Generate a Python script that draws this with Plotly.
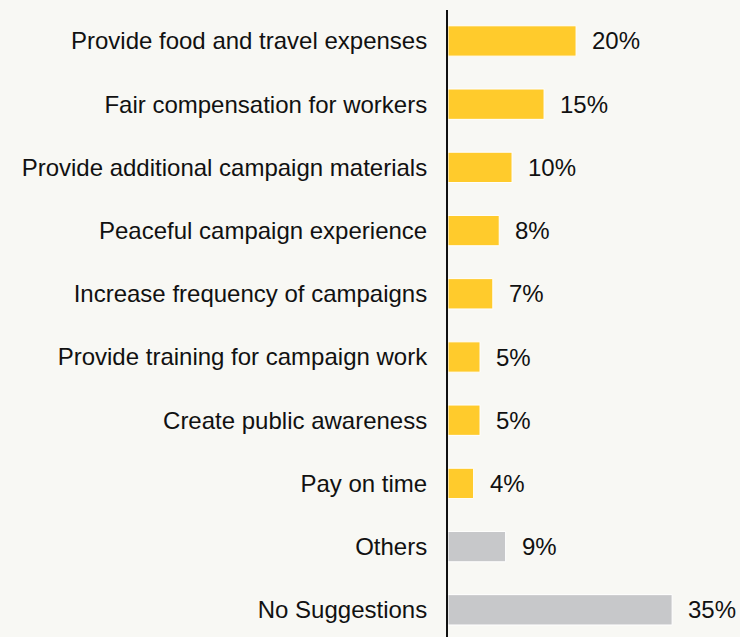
import plotly.graph_objects as go

categories = [
    "Provide food and travel expenses",
    "Fair compensation for workers",
    "Provide additional campaign materials",
    "Peaceful campaign experience",
    "Increase frequency of campaigns",
    "Provide training for campaign work",
    "Create public awareness",
    "Pay on time",
    "Others",
    "No Suggestions",
]
values = [20, 15, 10, 8, 7, 5, 5, 4, 9, 35]
value_labels = ["20%", "15%", "10%", "8%", "7%", "5%", "5%", "4%", "9%", "35%"]

YELLOW = "#FFCB2C"
GREY = "#C7C8CA"
colors = [GREY if c in ("Others", "No Suggestions") else YELLOW for c in categories]

FONT = "Liberation Sans, Arial, sans-serif"

fig = go.Figure(
    go.Bar(
        x=values,
        y=categories,
        orientation="h",
        marker=dict(color=colors, line=dict(color="white", width=1)),
        width=0.48,
        hoverinfo="skip",
    )
)

for cat, v, lab in zip(categories, values, value_labels):
    fig.add_annotation(
        x=v, y=cat, text=lab, showarrow=False,
        xanchor="left", yanchor="middle", xshift=14,
        font=dict(family=FONT, size=24, color="#111111"),
    )

fig.update_layout(
    width=740, height=637,
    margin=dict(l=448, r=0, t=10, b=0),
    paper_bgcolor="#F8F8F4",
    plot_bgcolor="#F8F8F4",
    showlegend=False,
    font=dict(family=FONT, size=24, color="#111111"),
)
fig.update_xaxes(range=[0, 45.6], visible=False, showgrid=False, zeroline=False)
fig.update_yaxes(
    range=[9.43, -0.49],
    showgrid=False, zeroline=False,
    showline=True, linecolor="#111111", linewidth=2,
    ticks="", ticklabelstandoff=14,
    tickfont=dict(family=FONT, size=24, color="#111111"),
)

fig.write_html("out.html")
